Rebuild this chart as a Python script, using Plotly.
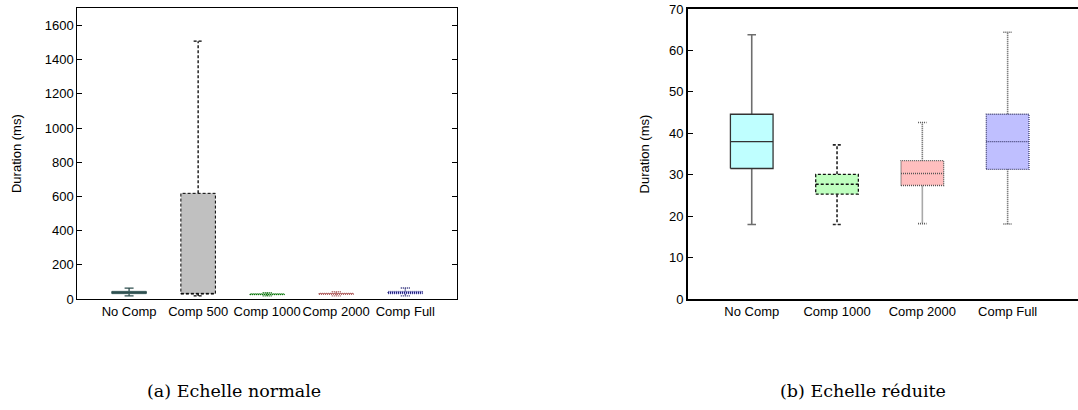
import plotly.graph_objects as go

# ---------------- data ----------------
# (a) normal scale
categories_a = ["No Comp", "Comp 500", "Comp 1000", "Comp 2000", "Comp Full"]
lower_a = [18.0, 18.0, 18.0, 18.2, 18.1]
q1_a = [31.5, 29.0, 25.3, 27.4, 31.3]
median_a = [38.0, 33.0, 27.7, 30.3, 38.0]
q3_a = [44.6, 618.0, 30.1, 33.4, 44.6]
upper_a = [63.8, 1508.0, 37.2, 42.6, 64.4]

# (b) reduced scale
categories_b = ["No Comp", "Comp 1000", "Comp 2000", "Comp Full"]
lower_b = [18.0, 18.0, 18.2, 18.1]
q1_b = [31.5, 25.3, 27.4, 31.3]
median_b = [38.0, 27.7, 30.3, 38.0]
q3_b = [44.6, 30.1, 33.4, 44.6]
upper_b = [63.8, 37.2, 42.6, 64.4]

# ---------------- styles ----------------
DASH = "3px,2px"
DOT = "1px,1px"
style_a = [
    dict(fill="#bfffff", line="#2f4f4f", whisker="#2f4f4f", dash="solid"),
    dict(fill="#c0c0c0", line="#000000", whisker="#000000", dash=DASH),
    dict(fill="#bfffbf", line="#006400", whisker="#006400", dash=DOT),
    dict(fill="#ffbfbf", line="#a05050", whisker="#a05050", dash=DOT),
    dict(fill="#bfbfff", line="#1e1e70", whisker="#1e1e70", dash=DOT),
]
style_b = [
    dict(fill="#bfffff", line="#333333", whisker="#6e6e6e", dash="solid"),
    dict(fill="#bfffbf", line="#111111", whisker="#222222", dash=DASH),
    dict(fill="#ffbfbf", line="#555555", whisker="#555555", dash=DOT),
    dict(fill="#bfbfff", line="#3c3c70", whisker="#555555", dash=DOT),
]

fig = go.Figure()


def draw_box(xpos, lo, q1, med, q3, hi, st, xa, ya, half=0.25, cap=0.05, lw=1.2):
    # whiskers + caps
    fig.add_trace(go.Scatter(
        x=[xpos, xpos, None, xpos, xpos, None,
           xpos - cap, xpos + cap, None, xpos - cap, xpos + cap],
        y=[q3, hi, None, q1, lo, None, hi, hi, None, lo, lo],
        mode="lines", line=dict(color=st["whisker"], width=lw + 0.3, dash=st["dash"]),
        xaxis=xa, yaxis=ya, showlegend=False, hoverinfo="skip"))
    # box
    fig.add_trace(go.Scatter(
        x=[xpos - half, xpos + half, xpos + half, xpos - half, xpos - half],
        y=[q1, q1, q3, q3, q1],
        mode="lines", fill="toself", fillcolor=st["fill"],
        line=dict(color=st["line"], width=lw, dash=st["dash"]),
        xaxis=xa, yaxis=ya, showlegend=False, hoverinfo="skip"))
    # median
    fig.add_trace(go.Scatter(
        x=[xpos - half, xpos + half], y=[med, med],
        mode="lines", line=dict(color=st["line"], width=lw, dash=st["dash"]),
        xaxis=xa, yaxis=ya, showlegend=False, hoverinfo="skip"))


pos_a = list(range(1, len(categories_a) + 1))
for i, p in enumerate(pos_a):
    draw_box(p, lower_a[i], q1_a[i], median_a[i], q3_a[i], upper_a[i],
             style_a[i], "x", "y", cap=0.065, lw=1.0)

pos_b = list(range(1, len(categories_b) + 1))
for i, p in enumerate(pos_b):
    draw_box(p, lower_b[i], q1_b[i], median_b[i], q3_b[i], upper_b[i],
             style_b[i], "x2", "y2", cap=0.05, lw=1.3)

font_main = "Liberation Sans"
tickfont = dict(family=font_main, size=13, color="#000")
titlefont = dict(family=font_main, size=13, color="#000")

fig.update_layout(
    width=1078, height=410,
    margin=dict(l=0, r=0, t=0, b=0),
    paper_bgcolor="white", plot_bgcolor="white",
    font=dict(family=font_main, size=13, color="#000"),
    xaxis=dict(domain=[0.0717, 0.4240], range=[0.25, 5.75], automargin=False,
               tickvals=pos_a, ticktext=categories_a, ticks="", tickangle=0,
               showline=True, mirror=True, linecolor="#000", linewidth=1,
               showgrid=False, zeroline=False, tickfont=tickfont),
    yaxis=dict(domain=[0.2707, 0.9797], range=[0, 1700], dtick=200, automargin=False,
               ticks="inside", ticklen=5, tickcolor="#000",
               showline=True, mirror="ticks", linecolor="#000", linewidth=1,
               showgrid=False, zeroline=False, tickfont=tickfont,
               title=dict(text="Duration (ms)", standoff=20, font=titlefont)),
    xaxis2=dict(domain=[0.638, 1.0], range=[0.25, 4.825], anchor="y2", automargin=False,
                tickvals=pos_b, ticktext=categories_b, ticks="", tickangle=0,
                showline=True, mirror=True, linecolor="#000", linewidth=1.5,
                showgrid=False, zeroline=False, tickfont=tickfont),
    yaxis2=dict(domain=[0.2707, 0.978], range=[0, 70], dtick=10, anchor="x2",
                automargin=False,
                ticks="inside", ticklen=5, tickcolor="#000",
                showline=True, mirror=False, linecolor="#000", linewidth=1.5,
                showgrid=False, zeroline=False, tickfont=tickfont,
                title=dict(text="Duration (ms)", standoff=16, font=titlefont)),
    annotations=[
        dict(text="(a) Echelle normale", xref="paper", yref="paper",
             x=234 / 1078, y=1 - 391 / 410, showarrow=False,
             xanchor="center", yanchor="middle",
             font=dict(family="DejaVu Serif", size=17.5, color="#000")),
        dict(text="(b) Echelle réduite", xref="paper", yref="paper",
             x=863 / 1078, y=1 - 391 / 410, showarrow=False,
             xanchor="center", yanchor="middle",
             font=dict(family="DejaVu Serif", size=17.5, color="#000")),
    ],
)

fig.write_html("out.html",
               config={"displayModeBar": False},
               post_script="document.body.style.margin='0';document.body.style.overflow='hidden';")
